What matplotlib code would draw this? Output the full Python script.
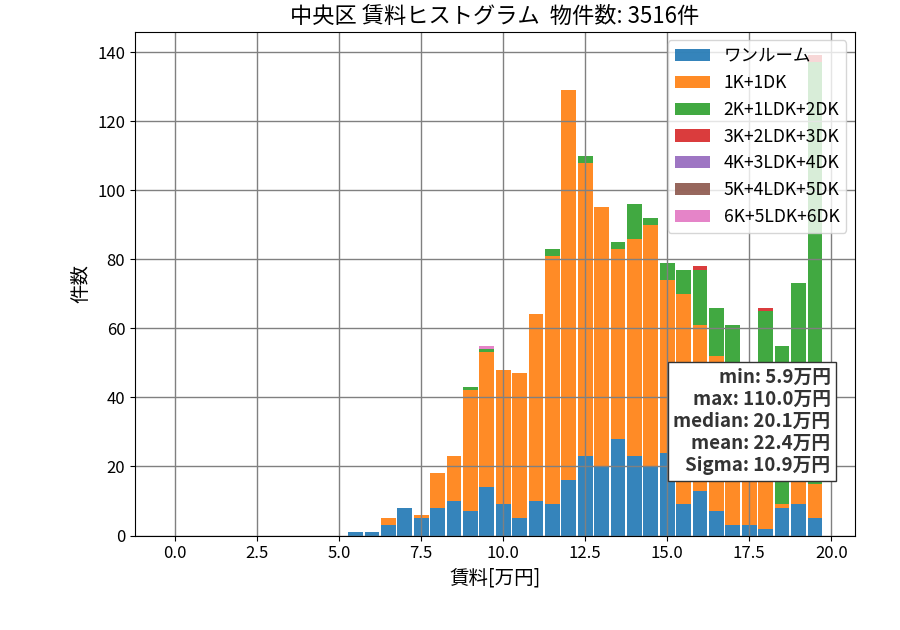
import numpy as np
import matplotlib
matplotlib.use("Agg")
import matplotlib.pyplot as plt

plt.rcParams['font.family'] = ['Noto Sans CJK JP', 'DejaVu Sans']

# bin left edges (0.5万円 bins), bars drawn centred on the left edge
bin_lefts = np.arange(0, 20.0, 0.5)
first_nonzero = 5.5
categories = ["ワンルーム", "1K+1DK", "2K+1LDK+2DK", "3K+2LDK+3DK",
              "4K+3LDK+4DK", "5K+4LDK+5DK", "6K+5LDK+6DK"]

# counts for bins 5.5, 6.0, ..., 19.5
one_room = [1, 1, 3, 8, 5, 8, 10, 7, 14, 9, 5, 10, 9, 16, 23, 20, 28, 23, 20, 24, 9, 13, 7, 3, 3, 2, 8, 9, 5]
k1_dk1   = [0, 0, 2, 0, 1, 10, 13, 35, 39, 39, 42, 54, 72, 113, 85, 75, 55, 63, 70, 50, 61, 48, 45, 41, 43, 38, 1, 29, 10]
k2_dk2   = [0, 0, 0, 0, 0, 0, 0, 1, 1, 0, 0, 0, 2, 0, 2, 0, 2, 10, 2, 5, 7, 16, 14, 17, 0, 25, 46, 35, 122]
k3_dk3   = [0, 0, 0, 0, 0, 0, 0, 0, 0, 0, 0, 0, 0, 0, 0, 0, 0, 0, 0, 0, 0, 1, 0, 0, 0, 1, 0, 0, 2]
k4_dk4   = [0] * 29
k5_dk5   = [0] * 29
k6_dk6   = [0, 0, 0, 0, 0, 0, 0, 0, 1, 0, 0, 0, 0, 0, 0, 0, 0, 0, 0, 0, 0, 0, 0, 0, 0, 0, 0, 0, 0]

series = [one_room, k1_dk1, k2_dk2, k3_dk3, k4_dk4, k5_dk5, k6_dk6]

stats_text = "min: 5.9万円\nmax: 110.0万円\nmedian: 20.1万円\nmean: 22.4万円\nSigma: 10.9万円"
title = "中央区 賃料ヒストグラム  物件数: 3516件"

fig = plt.figure(figsize=(9, 6.3), dpi=100)
ax = fig.add_axes([0.15, 0.15, 0.80, 0.80])

n_zero = int(round((first_nonzero - bin_lefts[0]) / 0.5))
colors = plt.rcParams['axes.prop_cycle'].by_key()['color']
bottom = np.zeros(len(bin_lefts))
for i, (name, vals) in enumerate(zip(categories, series)):
    full = np.concatenate([np.zeros(n_zero), np.array(vals, dtype=float)])
    cont = ax.bar(bin_lefts, full, width=0.45, bottom=bottom, color=colors[i],
                  alpha=0.9, label=name, align='center')
    if i > 0:
        for p in cont.patches:
            p.sticky_edges.y.clear()
    bottom = bottom + full

ax.grid(True, color='gray', linewidth=1)
ax.set_title(title, fontsize=16)
ax.set_xlabel("賃料[万円]", fontsize=14)
ax.set_ylabel("件数", fontsize=14)
ax.tick_params(labelsize=12)
ax.legend(loc='upper right', fontsize=12.6)

ax.text(0.966, 0.12, stats_text, transform=ax.transAxes, ha='right', va='bottom',
        fontsize=13.5, fontweight='bold', multialignment='right', color='#333333',
        bbox=dict(facecolor='white', edgecolor='#333333', boxstyle='square,pad=0.3'),
        zorder=5)

fig.savefig("out.png", dpi=100)
